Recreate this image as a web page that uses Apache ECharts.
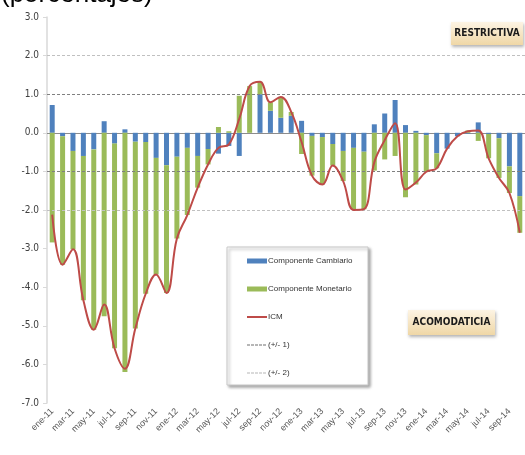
<!DOCTYPE html>
<html>
<head>
<meta charset="utf-8">
<script src="https://cdn.jsdelivr.net/npm/echarts@6/dist/echarts.min.js"></script>
<style>
html,body{margin:0;padding:0;background:#fff;}
#chart{width:525px;height:455px;}
</style>
</head>
<body>
<div id="chart"></div>
<script>
var months = ['ene-11','feb-11','mar-11','abr-11','may-11','jun-11','jul-11','ago-11','sep-11','oct-11','nov-11','dic-11',
    'ene-12','feb-12','mar-12','abr-12','may-12','jun-12','jul-12','ago-12','sep-12','oct-12','nov-12','dic-12',
    'ene-13','feb-13','mar-13','abr-13','may-13','jun-13','jul-13','ago-13','sep-13','oct-13','nov-13','dic-13',
    'ene-14','feb-14','mar-14','abr-14','may-14','jun-14','jul-14','ago-14','sep-14','oct-14'];

var cambiario = [0.72,-0.09,-0.47,-0.60,-0.43,0.30,-0.28,0.09,-0.23,-0.24,-0.65,-0.84,
    -0.62,-0.39,-0.60,-0.42,-0.54,-0.34,-0.60,0.00,1.00,0.57,0.39,0.44,
    0.31,-0.08,-0.11,-0.29,-0.47,-0.39,-0.49,0.22,0.50,0.85,0.20,0.05,
    -0.06,-0.53,-0.41,-0.09,-0.02,0.27,-0.03,-0.14,-0.87,-1.64];

var monetario = [-2.84,-3.33,-2.55,-3.74,-4.67,-4.75,-5.30,-6.20,-4.84,-3.93,-3.02,-3.31,
    -2.12,-1.74,-0.82,-0.40,0.15,0.04,0.96,1.21,0.32,0.22,0.54,0.10,
    -0.55,-1.03,-1.23,-0.56,-0.78,-1.61,-1.49,-0.98,-0.69,-0.60,-1.67,-1.34,
    -0.95,-0.39,0.00,0.00,0.06,-0.21,-0.63,-1.03,-0.69,-0.95];

var icm = [-2.12,-3.42,-3.02,-4.34,-5.10,-4.45,-5.58,-6.11,-5.07,-4.17,-3.67,-4.15,
    -2.74,-2.13,-1.42,-0.82,-0.39,-0.30,0.36,1.21,1.32,0.79,0.93,0.54,
    -0.24,-1.11,-1.34,-0.85,-1.25,-2.00,-1.98,-0.76,-0.19,0.25,-1.47,-1.29,
    -1.01,-0.92,-0.41,-0.09,0.04,0.06,-0.66,-1.17,-1.56,-2.59];

var bandas1 = [1, -1];
var bandas2 = [2, -2];

var narrow = '"Liberation Sans Narrow","DejaVu Sans Condensed","Liberation Sans",sans-serif';
var sans = '"Liberation Sans", Arial, sans-serif';

// legend icons drawn as 20x5 paths (corner slivers fix the bounding box)
var esquinas = 'M0,0L0.01,0L0,0.01Z M19.99,5L20,5L20,4.99Z ';
var iconLinea = 'path://' + esquinas + 'M0,1.6h20v1.8h-20z';
var iconGuiones = 'path://' + esquinas + 'M0,2h3v1h-3z M4,2h3v1h-3z M8,2h3v1h-3z M12,2h3v1h-3z M16,2h3v1h-3z';

var chart = echarts.init(document.getElementById('chart'));

function bandLines(vals){
    return vals.map(function(v){ return {yAxis: v}; });
}

function etiqueta(x, y, w, h, txt){
    return {
        type: 'group',
        z: 30,
        children: [
            {
                type: 'rect',
                shape: {x: x, y: y, width: w, height: h},
                style: {
                    fill: new echarts.graphic.LinearGradient(0, 0, 0, 1, [
                        {offset: 0, color: '#fdf4e4'},
                        {offset: 1, color: '#efd7a6'}
                    ]),
                    shadowBlur: 3,
                    shadowOffsetX: 1,
                    shadowOffsetY: 2,
                    shadowColor: 'rgba(0,0,0,0.3)'
                }
            },
            {
                type: 'text',
                style: {
                    text: txt,
                    x: x + w / 2,
                    y: y + h / 2,
                    align: 'center',
                    verticalAlign: 'middle',
                    fill: '#1a1a1a',
                    font: 'bold 10px ' + narrow
                }
            }
        ]
    };
}

var option = {
    animation: false,
    grid: {left: 47, top: 17, width: 480, height: 386},
    legend: {
        orient: 'vertical',
        left: 247,
        top: 257,
        padding: 0,
        z: 40,
        itemWidth: 20,
        itemHeight: 5,
        itemGap: 20,
        textStyle: {fontSize: 8, color: '#333', fontFamily: sans, padding: [0, 0, 0, -4]},
        data: [
            {name: 'Componente Cambiario', icon: 'rect'},
            {name: 'Componente Monetario', icon: 'rect'},
            {name: 'ICM', icon: iconLinea},
            {name: '(+/- 1)', icon: iconGuiones},
            {name: '(+/- 2)', icon: iconGuiones}
        ]
    },
    xAxis: [
        {
            type: 'category',
            data: months,
            position: 'bottom',
            axisLine: {onZero: true, lineStyle: {color: '#8c8c8c', width: 1}},
            axisTick: {interval: 1, length: 4, lineStyle: {color: '#8c8c8c'}},
            axisLabel: {show: false}
        },
        {
            type: 'category',
            data: months,
            position: 'bottom',
            axisLine: {show: false, onZero: false},
            axisTick: {show: false},
            axisLabel: {interval: 1, rotate: 45, fontSize: 9, color: '#595959', margin: 7, fontFamily: sans}
        }
    ],
    yAxis: {
        type: 'value',
        min: -7,
        max: 3,
        interval: 1,
        axisLine: {show: true, lineStyle: {color: '#d9d9d9', width: 1.5}},
        axisTick: {show: true, length: 4, lineStyle: {color: '#d9d9d9'}},
        splitLine: {show: false},
        axisLabel: {
            fontSize: 10,
            color: '#404040',
            margin: 8,
            fontFamily: narrow,
            formatter: function(v){ return v.toFixed(1); }
        }
    },
    series: [
        {
            name: 'Componente Cambiario',
            type: 'bar',
            stack: 'icm',
            barWidth: 5,
            itemStyle: {color: '#4F81BD'},
            data: cambiario
        },
        {
            name: 'Componente Monetario',
            type: 'bar',
            stack: 'icm',
            barWidth: 5,
            itemStyle: {color: '#9BBB59'},
            data: monetario
        },
        {
            name: 'ICM',
            type: 'line',
            smooth: 0.4,
            symbol: 'none',
            z: 6,
            itemStyle: {color: '#BE4B48'},
            lineStyle: {color: '#BE4B48', width: 2},
            data: icm
        },
        {
            name: '(+/- 1)',
            type: 'line',
            symbol: 'none',
            data: [],
            itemStyle: {color: '#6f6f6f'},
            lineStyle: {color: '#6f6f6f', type: [3, 1.5], width: 1},
            markLine: {
                silent: true,
                symbol: 'none',
                label: {show: false},
                lineStyle: {color: '#808080', type: [3, 2], width: 1.2},
                data: bandLines(bandas1)
            }
        },
        {
            name: '(+/- 2)',
            type: 'line',
            symbol: 'none',
            data: [],
            itemStyle: {color: '#b5b5b5'},
            lineStyle: {color: '#b5b5b5', type: [3, 1.5], width: 1},
            markLine: {
                silent: true,
                symbol: 'none',
                label: {show: false},
                lineStyle: {color: '#c0c0c0', type: [3, 2], width: 1.2},
                data: bandLines(bandas2)
            }
        }
    ],
    graphic: [
        {
            type: 'text',
            z: 30,
            style: {
                text: '(porcentajes)',
                x: 1,
                y: 8,
                verticalAlign: 'bottom',
                fill: '#000',
                font: '26px ' + sans
            }
        },
        {
            type: 'rect',
            z: 20,
            shape: {x: 227, y: 247, width: 141, height: 138},
            style: {
                fill: '#fff',
                stroke: '#c8c8c8',
                lineWidth: 1,
                shadowBlur: 3,
                shadowOffsetX: 2,
                shadowOffsetY: 2,
                shadowColor: 'rgba(0,0,0,0.35)'
            }
        },
        etiqueta(451, 22, 72, 23, 'RESTRICTIVA'),
        etiqueta(408, 310, 87, 25, 'ACOMODATICIA')
    ]
};

chart.setOption(option);
</script>
</body>
</html>
